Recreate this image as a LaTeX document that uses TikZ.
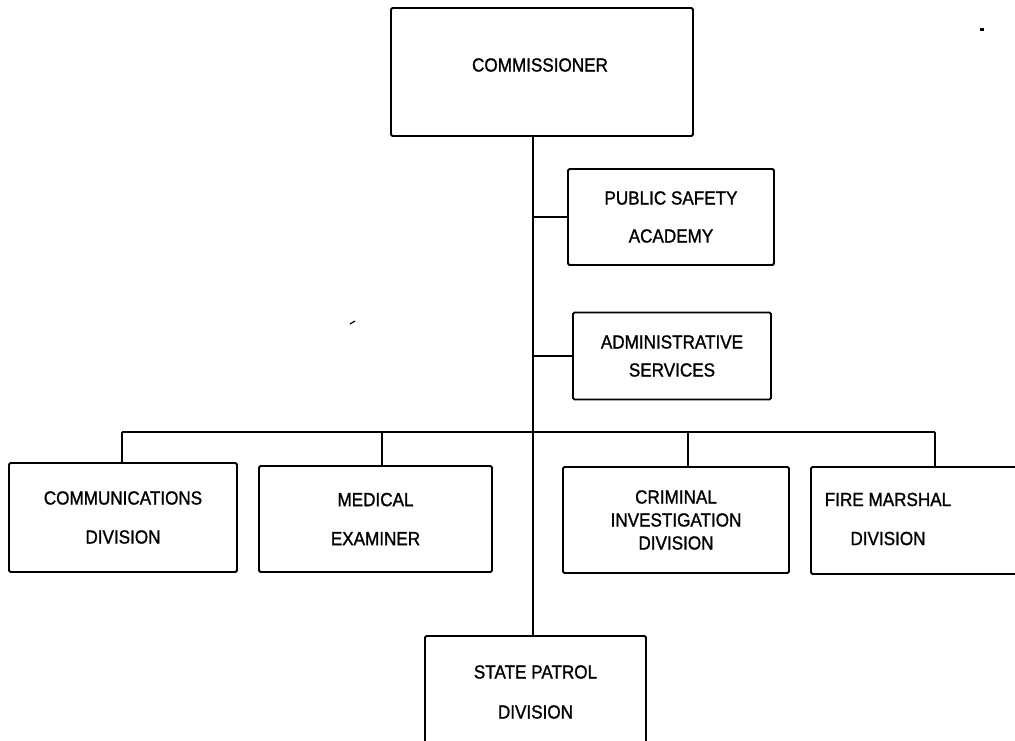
\documentclass[tikz,border=0pt]{standalone}
\usepackage{fontspec}
\setmainfont[FakeStretch=0.9,FakeBold=1.2]{Liberation Sans}
\begin{document}
\begin{tikzpicture}[x=1pt,y=-1pt,
  box/.style={draw,line width=1.9pt,rounded corners=1.5pt,inner sep=0pt,align=center,
    font=\fontsize{19}{39}\selectfont},
  wire/.style={line width=1.8pt},
  lbl/.style={inner sep=0pt,align=center,font=\fontsize{19}{39}\selectfont}]
\useasboundingbox (0,0) rectangle (1015,740);
% boxes
\node[box,minimum width=302,minimum height=128] (comm) at (542,72) {};
\node[lbl] (commt) at (540,65) {COMMISSIONER};
\node[box,minimum width=206,minimum height=96,font=\fontsize{19}{38}\selectfont] (psa) at (671,217) {PUBLIC SAFETY\\ACADEMY};
\node[box,minimum width=198,minimum height=87,font=\fontsize{19}{28}\selectfont] (adm) at (672,356) {ADMINISTRATIVE\\SERVICES};
\node[box,minimum width=228,minimum height=109] (cdiv) at (123,517.5) {COMMUNICATIONS\\DIVISION};
\node[box,minimum width=233,minimum height=106] (med) at (375.5,519) {MEDICAL\\EXAMINER};
\node[box,minimum width=226,minimum height=106,font=\fontsize{19}{23}\selectfont] (cid) at (676,520) {CRIMINAL\\INVESTIGATION\\DIVISION};
\node[box,minimum width=230,minimum height=107] (fire) at (926,520.5) {};
\node[lbl] (firet) at (888,519) {FIRE MARSHAL\\DIVISION};
\node[box,minimum width=221,minimum height=112,font=\fontsize{19}{40}\selectfont] (sp) at (535.5,692) {STATE PATROL\\DIVISION};
% connector coordinates
\coordinate (hub) at (533,432);
\coordinate (d1) at (122,432);
\coordinate (d2) at (382,432);
\coordinate (d3) at (688,432);
\coordinate (d4) at (935,432);
% connectors
\draw[wire] (comm.south -| hub) -- (sp.north -| hub);
\draw[wire] (psa.west) -- (psa.west -| hub);
\draw[wire] (adm.west) -- (adm.west -| hub);
\draw[wire] (d1) -- (d4);
\draw[wire] (d1) -- (d1 |- cdiv.north);
\draw[wire] (d2) -- (d2 |- med.north);
\draw[wire] (d3) -- (d3 |- cid.north);
\draw[wire] (d4) -- (d4 |- fire.north);
% scan specks
\fill (980,28) rectangle (984,31);
\draw[line width=1.2pt] (350,324) -- (355,321);
\end{tikzpicture}
\end{document}
